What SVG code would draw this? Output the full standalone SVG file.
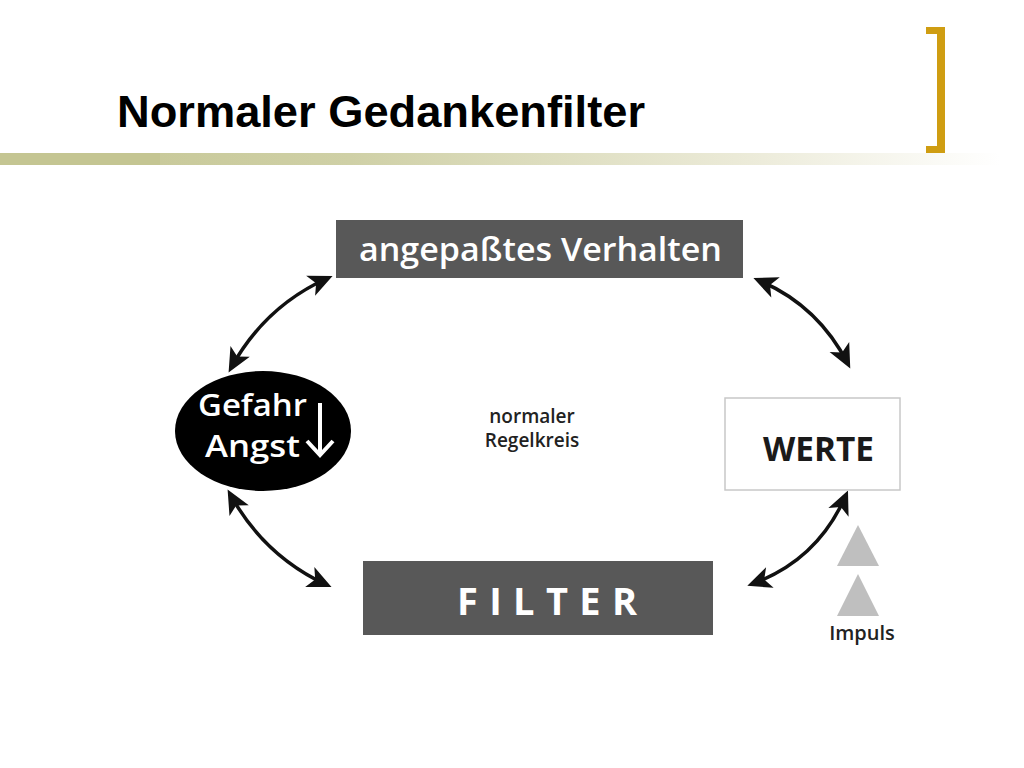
<svg xmlns="http://www.w3.org/2000/svg" width="1024" height="768" viewBox="0 0 1024 768">
  <style>
    .title { font-family: "Liberation Sans", Arial, sans-serif; font-weight: bold; font-size: 45px; fill: #000; }
    .lbl { font-family: "Open Sans", "DejaVu Sans", sans-serif; }
    .darkbox { fill: #585858; }
    .conn { fill: none; stroke: #111; stroke-width: 3.5; }
  </style>
  <defs>
    <linearGradient id="bar" x1="0" y1="0" x2="1" y2="0">
      <stop offset="0" stop-color="#c4c592"/>
      <stop offset="0.35" stop-color="#cfd0a6"/>
      <stop offset="0.75" stop-color="#ecebd9"/>
      <stop offset="1" stop-color="#ffffff"/>
    </linearGradient>
    <marker id="head" markerUnits="userSpaceOnUse" viewBox="-2 -13 30 26" markerWidth="30" markerHeight="26" refX="19" refY="0" orient="auto-start-reverse">
      <path d="M0,-11 L24,0 L0,11 L6,0 Z" fill="#111"/>
    </marker>
  </defs>

  <rect width="1024" height="768" fill="#ffffff"/>

  <!-- header decoration -->
  <g id="header">
    <rect x="0" y="153" width="1000" height="12" fill="url(#bar)"/>
    <rect x="0" y="153" width="160" height="12" fill="#c4c592"/>
    <rect x="937" y="27" width="8" height="126" fill="#cf9d12"/>
    <rect x="926" y="27" width="19" height="7" fill="#cf9d12"/>
    <rect x="926" y="146" width="19" height="7" fill="#cf9d12"/>
    <text class="title" x="117" y="127" textLength="528" lengthAdjust="spacingAndGlyphs">Normaler Gedankenfilter</text>
  </g>

  <!-- connectors -->
  <g id="connectors">
    <path class="conn" d="M328,278 Q265,306 231,368" marker-start="url(#head)" marker-end="url(#head)"/>
    <path class="conn" d="M758,280 Q818,305 848,364" marker-start="url(#head)" marker-end="url(#head)"/>
    <path class="conn" d="M230,494 Q264,556 327,585" marker-start="url(#head)" marker-end="url(#head)"/>
    <path class="conn" d="M846,495 Q818,560 752,584" marker-start="url(#head)" marker-end="url(#head)"/>
  </g>

  <g id="verhalten">
    <rect class="darkbox" x="336" y="220" width="407" height="58"/>
    <text class="lbl" x="540.5" y="261" text-anchor="middle" font-size="33" font-weight="600" fill="#fff" textLength="363" lengthAdjust="spacingAndGlyphs">angepaßtes Verhalten</text>
  </g>

  <g id="gefahr">
    <ellipse cx="263" cy="431" rx="88" ry="60" fill="#000"/>
    <text class="lbl" font-size="30" font-weight="600" fill="#fff"><tspan x="198" y="416" textLength="109" lengthAdjust="spacingAndGlyphs">Gefahr</tspan><tspan x="205" y="457" textLength="95" lengthAdjust="spacingAndGlyphs">Angst</tspan></text>
    <line x1="320" y1="403" x2="320" y2="455" stroke="#fff" stroke-width="4"/>
    <polyline points="307,441 320,455 333,441" fill="none" stroke="#fff" stroke-width="4" stroke-linejoin="miter"/>
  </g>

  <g id="regelkreis">
    <text class="lbl" font-size="19" font-weight="600" fill="#222" text-anchor="middle"><tspan x="532" y="423">normaler</tspan><tspan x="532" y="447">Regelkreis</tspan></text>
  </g>

  <g id="werte">
    <rect x="725" y="398" width="175" height="92" fill="#fff" stroke="#c8c8c8" stroke-width="1.5"/>
    <text class="lbl" x="818.5" y="461" text-anchor="middle" font-size="34" font-weight="700" fill="#1a1a1a" textLength="111" lengthAdjust="spacingAndGlyphs">WERTE</text>
  </g>

  <g id="filter">
    <rect class="darkbox" x="363" y="561" width="350" height="74"/>
    <text class="lbl" x="457" y="615" font-size="38" font-weight="700" fill="#fff" textLength="180" lengthAdjust="spacing">FILTER</text>
  </g>

  <g id="impuls">
    <polygon points="858,525 879,566 837,566" fill="#bfbfbf"/>
    <polygon points="858,574 879,616 837,616" fill="#bfbfbf"/>
    <text class="lbl" x="862" y="640" text-anchor="middle" font-size="20" font-weight="600" fill="#222">Impuls</text>
  </g>
</svg>
